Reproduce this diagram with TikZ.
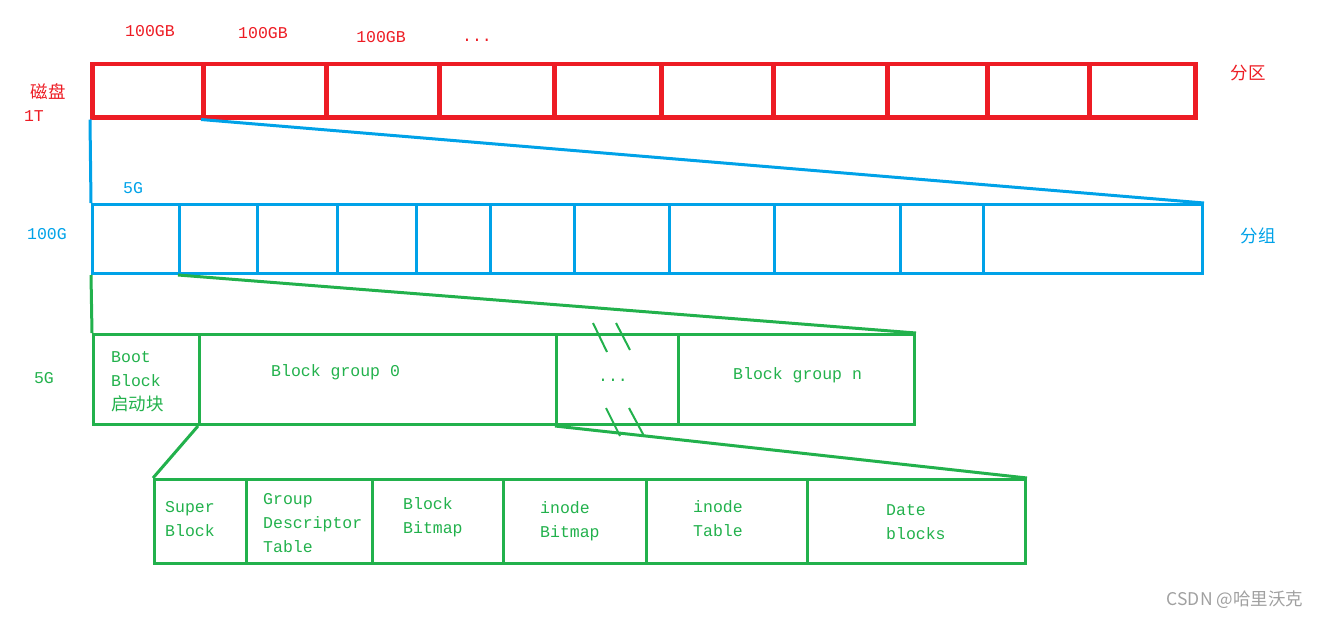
\documentclass[tikz,border=0pt]{standalone}
\usepackage{fontspec}
\setmainfont{Liberation Mono}
\newfontfamily\cjk{Noto Sans CJK SC}
\usepackage{tikz}
\usetikzlibrary{positioning, calc}
\definecolor{diskred}{RGB}{237, 28, 36}
\definecolor{partblue}{RGB}{0, 162, 232}
\definecolor{grpgreen}{RGB}{34, 177, 76}
\definecolor{markgray}{RGB}{160, 160, 160}

\begin{document}
\begin{tikzpicture}[
  x=1pt, y=-1pt,
  redcell/.style={draw=diskred, line width=4.5pt, minimum height=53pt, anchor=north west, inner sep=0pt},
  bluecell/.style={draw=partblue, line width=3pt, minimum height=69pt, anchor=north west, inner sep=0pt},
  greencell/.style={draw=grpgreen, line width=3pt, minimum height=90pt, anchor=north west, inner sep=0pt},
  subcell/.style={draw=grpgreen, line width=3pt, minimum height=84pt, anchor=north west, inner sep=0pt},
  lbl/.style={font=\fontsize{16.5}{24}\selectfont, inner sep=0pt, align=left},
  cjklbl/.style={font=\cjk\fontsize{17.5}{24}\selectfont, inner sep=0pt},
  redline/.style={diskred, line width=4pt},
  blueline/.style={partblue, line width=3pt},
  greenline/.style={grpgreen, line width=3pt}
]
  \useasboundingbox (0,0) rectangle (1319,618);

  % disk: partitions
  \foreach \a/\b [count=\i] in {90/201, 201/324, 324/437, 437/552, 552/659, 659/771, 771/885, 885/985, 985/1087, 1087/1193}
    \node[redcell, minimum width={\b-\a}] (p\i) at (\a,62) {};

  % one partition: groups
  \foreach \a/\b [count=\i] in {91/178, 178/256, 256/336, 336/415, 415/489, 489/573, 573/668, 668/773, 773/899, 899/982, 982/1201}
    \node[bluecell, minimum width={\b-\a}] (g\i) at (\a,203) {};

  % one group: block groups
  \foreach \a/\b [count=\i] in {92/198, 198/555, 555/677, 677/913}
    \node[greencell, minimum width={\b-\a}] (b\i) at (\a,333) {};

  % one block group
  \foreach \a/\b [count=\i] in {153/245, 245/371, 371/502, 502/645, 645/806, 806/1024}
    \node[subcell, minimum width={\b-\a}] (s\i) at (\a,478) {};

  % zoom lines
  \draw[blueline] (p1.south west) -- (g1.north west);
  \draw[blueline] (p2.south west) -- (g11.north east);
  \draw[greenline] (g1.south west) -- (b1.north west);
  \draw[greenline] (g2.south west) -- (b4.north east);
  \draw[greenline] (b2.south west) -- (s1.north west);
  \draw[greenline] (b3.south west) -- (s6.north east);

  % break marks
  \draw[greenline, line width=2pt] (593,323) -- (607,352) (616,323) -- (630,350);
  \draw[greenline, line width=2pt] (606,408) -- (620,436) (629,408) -- (644,436);

  % labels, disk
  \node[lbl, text=diskred] (sz1) at (150,31) {100GB};
  \node[lbl, text=diskred] (sz2) at (263,33) {100GB};
  \node[lbl, text=diskred] (sz3) at (381,37) {100GB};
  \node[lbl, text=diskred] (sz4) at (477,40) {...};
  \node[cjklbl, text=diskred] (disk) at (48,92) {磁盘};
  \node[lbl, text=diskred] (cap) at (34,116) {1T};
  \node[cjklbl, text=diskred] (part) at (1248,73) {分区};

  % labels, partition
  \node[lbl, text=partblue] (gsz) at (133,188) {5G};
  \node[lbl, text=partblue] (psz) at (47,234) {100G};
  \node[cjklbl, text=partblue] (grp) at (1258,236) {分组};

  % labels, group
  \node[lbl, text=grpgreen] (bsz) at (44,378) {5G};
  \node[lbl, text=grpgreen, anchor=west] (boot) at (111,382) {Boot\\Block\\{\cjk\fontsize{17.5}{24}\selectfont 启动块}};
  \node[lbl, text=grpgreen, anchor=west] (bg0) at (271,372) {Block group 0};
  \node[lbl, text=grpgreen] (bgd) at (613,380) {...};
  \node[lbl, text=grpgreen, anchor=west] (bgn) at (733,375) {Block group n};

  % labels, block group
  \node[lbl, text=grpgreen, anchor=west] (sb) at (165,519) {Super\\Block};
  \node[lbl, text=grpgreen, anchor=west] (gdt) at (263,523) {Group\\Descriptor\\Table};
  \node[lbl, text=grpgreen, anchor=west] (bbm) at (403,517) {Block\\Bitmap};
  \node[lbl, text=grpgreen, anchor=west] (ibm) at (540,521) {inode\\Bitmap};
  \node[lbl, text=grpgreen, anchor=west] (itb) at (693,519) {inode\\Table};
  \node[lbl, text=grpgreen, anchor=west] (dat) at (886,522) {Date\\blocks};

  \node[text=markgray, font=\cjk\fontsize{17.5}{20}\selectfont, inner sep=0pt] (mark) at (1235,600) {CSDN @哈里沃克};
\end{tikzpicture}
\end{document}
